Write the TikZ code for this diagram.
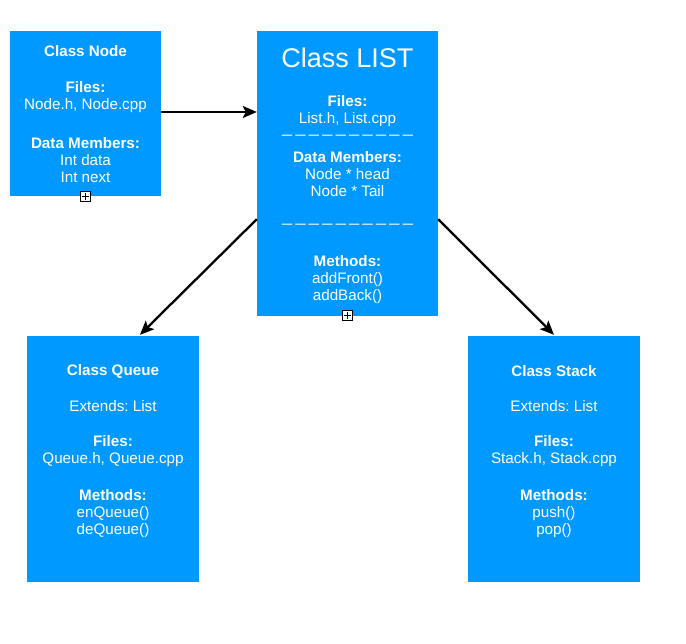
\documentclass[tikz,border=0pt]{standalone}
\usepackage{fontspec}
\setmainfont{Liberation Sans}
\usetikzlibrary{arrows.meta,calc}
\definecolor{boxblue}{RGB}{0,153,255}
\frenchspacing
\begin{document}
\begin{tikzpicture}[x=1pt,y=-1pt,
  classbox/.style={draw=none,fill=boxblue,inner sep=0},
  txt/.style={text=white,font=\fontsize{15.2}{17}\selectfont,align=center,inner sep=0},
  title/.style={text=white,font=\fontsize{27}{30}\selectfont,inner sep=0},
  dashline/.style={text=white,font=\fontsize{10.5}{12}\selectfont\bfseries,inner sep=0},
  plusbox/.style={draw=black,fill=white,minimum size=10.5pt,inner sep=0,line width=0.8pt,
    path picture={\draw[line width=0.9pt]
      ([xshift=2pt]path picture bounding box.west) -- ([xshift=-2pt]path picture bounding box.east)
      ([yshift=2pt]path picture bounding box.south) -- ([yshift=-2pt]path picture bounding box.north);}},
  conn/.style={draw=black,line width=2.3pt,-{Stealth[length=14pt,width=12pt,inset=3pt]}}]
\fill[white] (0,0) rectangle (686,644);
\useasboundingbox (0,0) rectangle (686,644);

% boxes
\node[classbox,minimum width=151pt,minimum height=165pt] (node) at (85.5,113.5) {};
\node[classbox,minimum width=181pt,minimum height=285pt] (list) at (347.5,173.5) {};
\node[classbox,minimum width=172pt,minimum height=246pt] (queue) at (113,459) {};
\node[classbox,minimum width=172pt,minimum height=246pt] (stack) at (554,459) {};

% Node texts
\node[txt] (nodeT) at (85.5,51.5) {\bfseries Class Node};
\node[txt] (nodeF) at (85.5,97) {\bfseries Files:\\Node.h, Node.cpp};
\node[txt] (nodeD) at (85.5,160) {\bfseries Data Members:\\Int data\\Int next};

% LIST texts
\node[title] (listT) at (347.5,58) {Class LIST};
\node[txt] (listF) at (347.5,111) {\bfseries Files:\\List.h, List.cpp};
\node[dashline] (listD1) at (347.5,137) {— — — — — — — — — —};
\node[txt] (listM) at (347.5,174) {\bfseries Data Members:\\Node * head\\Node * Tail};
\node[dashline] (listD2) at (347.5,226) {— — — — — — — — — —};
\node[txt] (listMe) at (347.5,280) {\bfseries Methods:\\addFront()\\addBack()};

% Queue texts
\node[txt] (queueT) at (113,371.5) {\bfseries Class Queue};
\node[txt] (queueE) at (113,406) {Extends: List};
\node[txt] (queueF) at (113,451) {\bfseries Files:\\Queue.h, Queue.cpp};
\node[txt] (queueM) at (113,513.5) {\bfseries Methods:\\enQueue()\\deQueue()};

% Stack texts
\node[txt] (stackT) at (554,371.5) {\bfseries Class Stack};
\node[txt] (stackE) at (554,406) {Extends: List};
\node[txt] (stackF) at (554,451) {\bfseries Files:\\Stack.h, Stack.cpp};
\node[txt] (stackM) at (554,513.5) {\bfseries Methods:\\push()\\pop()};

% expand markers
\node[plusbox] (nodeplus) at (85.5,196.5) {};
\node[plusbox] (listplus) at (347.5,315.5) {};

% connectors
\coordinate (a1s) at ($(node.east)+(0,-1.5)$);
\draw[conn] (a1s) -- (a1s -| list.west);
\coordinate (a2s) at ($(list.south west)+(0,-97)$);
\coordinate (a2e) at ($(queue.north)+(27,-1)$);
\draw[conn] (a2s) -- (a2e);
\coordinate (a3s) at ($(list.south east)+(0,-97)$);
\coordinate (a3e) at ($(stack.north)+(0,-1)$);
\draw[conn] (a3s) -- (a3e);
\end{tikzpicture}
\end{document}
